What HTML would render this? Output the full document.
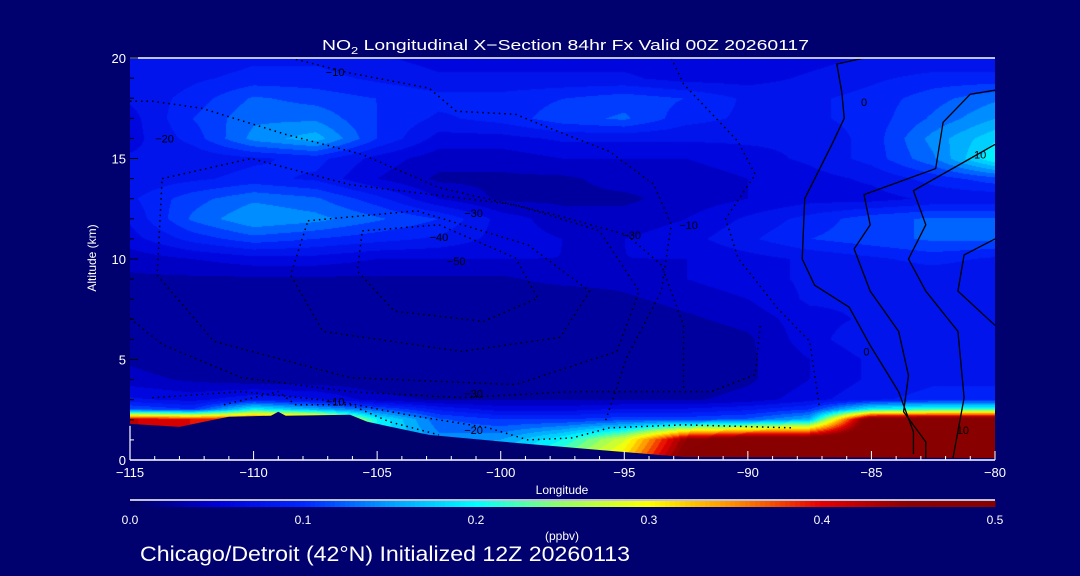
<!DOCTYPE html>
<html><head><meta charset="utf-8"><style>
body{margin:0;background:#00006e;width:1080px;height:576px;overflow:hidden;position:relative}
canvas{position:absolute;left:130px;top:58px}
svg{position:absolute;left:0;top:0;display:block;font-family:"Liberation Sans",sans-serif}
</style></head><body>
<canvas id="cv" width="865" height="402"></canvas>
<svg id="c" width="1080" height="576">
<defs><clipPath id="pc"><rect x="130" y="58" width="865" height="402"/></clipPath></defs>
<g id="plot" clip-path="url(#pc)"><g id="terrain"></g><g id="contours"></g></g>
<g id="axes"></g>
<text x="322" y="50" fill="#fff" font-size="15" textLength="487" lengthAdjust="spacingAndGlyphs">NO<tspan font-size="10" dy="4">2</tspan><tspan dy="-4"> Longitudinal X−Section 84hr  Fx Valid 00Z 20260117</tspan></text>
<text transform="translate(96,258) rotate(-90)" fill="#fff" font-size="12" text-anchor="middle">Altitude (km)</text>
<text x="562" y="494" fill="#fff" font-size="12" text-anchor="middle">Longitude</text>
<line x1="130" y1="500" x2="995" y2="500" stroke="#fff" stroke-width="1.5"/>
<g id="cbar"></g>
<g id="cbl"></g>
<text x="562" y="540" fill="#fff" font-size="12" text-anchor="middle">(ppbv)</text>
<text x="140" y="561" fill="#fff" font-size="21" textLength="490" lengthAdjust="spacingAndGlyphs">Chicago/Detroit (42°N) Initialized 12Z 20260113</text>
</svg>
<script>
const lons=[-115,-112.5,-110,-107.5,-105,-102.5,-100,-97.5,-95,-92.5,-90,-87.5,-85,-82.5,-80];
const alts=[20,19,18,17,16,15,14,13,12,11,10,9,8,7,6,5,4,3,2.5,2,1,0];
const no2=[
[.07,.07,.08,.08,.07,.06,.06,.06,.06,.06,.05,.06,.07,.07,.07],
[.07,.08,.09,.09,.08,.07,.07,.07,.07,.06,.06,.07,.08,.09,.09],
[.07,.09,.12,.11,.10,.09,.09,.10,.11,.10,.08,.08,.09,.11,.13],
[.06,.10,.13,.13,.10,.08,.09,.11,.12,.09,.08,.08,.09,.12,.15],
[.06,.09,.14,.16,.10,.06,.06,.07,.07,.07,.07,.07,.09,.14,.18],
[.07,.07,.08,.09,.06,.04,.04,.05,.05,.05,.06,.07,.09,.13,.20],
[.07,.08,.09,.08,.05,.03,.03,.03,.04,.04,.05,.06,.07,.09,.11],
[.08,.11,.13,.12,.09,.05,.03,.03,.03,.04,.05,.06,.06,.07,.07],
[.07,.12,.15,.14,.12,.10,.06,.04,.04,.05,.07,.09,.11,.12,.12],
[.06,.09,.11,.10,.09,.08,.06,.05,.05,.06,.08,.10,.11,.12,.12],
[.04,.05,.06,.06,.05,.05,.05,.05,.05,.05,.06,.07,.08,.09,.08],
[.03,.03,.03,.03,.03,.03,.03,.04,.04,.05,.06,.07,.07,.07,.07],
[.02,.02,.02,.02,.02,.02,.02,.02,.03,.04,.05,.07,.07,.07,.07],
[.02,.02,.02,.02,.02,.02,.02,.02,.02,.03,.04,.06,.07,.08,.08],
[.02,.02,.02,.02,.02,.02,.02,.02,.02,.02,.03,.06,.08,.08,.08],
[.03,.02,.02,.02,.02,.02,.02,.02,.02,.02,.03,.05,.07,.08,.08],
[.04,.03,.02,.02,.02,.02,.02,.02,.02,.02,.03,.05,.07,.08,.08],
[.07,.06,.08,.07,.04,.03,.03,.03,.03,.03,.04,.06,.08,.09,.09],
[.12,.10,.20,.16,.12,.08,.06,.06,.07,.07,.08,.10,.20,.22,.22],
[.42,.40,.40,.38,.20,.12,.10,.10,.11,.11,.12,.16,.50,.50,.50],
[.42,.40,.40,.40,.20,.14,.15,.20,.28,.45,.50,.50,.50,.50,.50],
[.42,.40,.40,.40,.20,.15,.18,.24,.32,.48,.50,.50,.50,.50,.50]];
const terrLon=[-115,-113,-112,-111,-109.3,-109,-108.7,-106.1,-105.4,-102.9,-99.4,-96,-92.6,-80];
const terrAlt=[1.8,1.65,1.9,2.15,2.2,2.4,2.2,2.25,1.9,1.25,0.85,0.5,0.15,0.1];
const xTicks=[-115,-110,-105,-100,-95,-90,-85,-80];
const yTicks=[0,5,10,15,20];
const cbTicks=[0,0.1,0.2,0.3,0.4,0.5];
const solidA=[[-85.3,20],[-86.4,19.7],[-86.2,18.3],[-86.1,17],[-86.6,15.7],[-87.7,13],[-87.8,10],[-87.3,8.7],[-85.9,7.6],[-85.05,5.7],[-83.9,3.4],[-83.3,1.4],[-83.3,0.3]];
const solidB=[[-80,18.4],[-81,18.2],[-82.1,16.8],[-82.4,14.5],[-85.3,13.2],[-85.05,11.7],[-85.7,10.5],[-85.05,8.4],[-83.9,6.4],[-83.5,4.2],[-83.7,2.4],[-82.8,0.9],[-82.8,0.1]];
const solidC=[[-80,15.7],[-81,15],[-83.3,13.4],[-82.8,11.7],[-83.5,10],[-82.8,8.4],[-81.5,6.4],[-81.25,3.1],[-81.7,0.1]];
const solidD=[[-80,11],[-81.25,10.2],[-81.5,8.4],[-80,6.7]];
const dotted=[
[[-108.5,20],[-106.1,19.25],[-102.9,18.5],[-101.8,17.35],[-99.4,17.2],[-98,16.5],[-95.6,15.35],[-93.8,13.7],[-93.1,11.7],[-93.5,8.4],[-94.9,5.1],[-95.8,1.8]],
[[-93.1,20],[-92.6,18.7],[-90.4,15.85],[-89.7,14.2],[-90.9,12],[-90.4,10.05],[-88.8,7.55],[-87.5,5.9],[-87.1,2.6]],
[[-115,17.85],[-114.1,17.85],[-112.1,17.5],[-108.7,16.2],[-105.6,15.2],[-102.5,13.55],[-97.8,12.2],[-94.9,11.2],[-93.5,9.7],[-92.6,6.7],[-92.6,3.4]],
[[-113.7,14],[-110.1,15],[-106.1,13.7],[-99.4,12.7],[-96,11.4],[-94.4,8.4],[-95.3,5.4],[-99.4,3.75],[-106.1,4.1],[-111.6,5.9],[-113.9,9.2],[-113.7,14]],
[[-107.8,11.9],[-103.4,12.4],[-98.9,10.7],[-96.4,8.4],[-97.6,6.1],[-101.6,5.4],[-107.2,6.4],[-108.5,9.2],[-107.8,11.9]],
[[-105.6,11.4],[-102.5,11.7],[-99.4,10.05],[-98.5,8.05],[-100.7,6.9],[-104.3,7.4],[-105.8,9.4],[-105.6,11.4]],
[[-115,7.05],[-113.7,5.75],[-110.5,4.1],[-106.1,3.4],[-101.6,3.1],[-97.1,3.4],[-91.5,3.4],[-89.7,4.25],[-89.5,6.7]],
[[-114.1,3.1],[-110.5,3.4],[-106.5,2.9],[-103.8,2.25],[-100.5,1.6],[-98.9,1.0],[-97.1,1.1],[-95.6,1.6],[-92.6,1.75],[-88.2,1.6]],
[[-111.2,2.75],[-109,3.4],[-108.3,2.75],[-106.1,2.75],[-104.5,1.9],[-102.5,1.25]]];
const labLon=[-106.7,-113.6,-101.1,-102.5,-101.8,-92.4,-94.7,-101.1,-101.1,-106.7,-85.3,-85.2,-80.6,-81.3];
const labAlt=[19.1,15.8,12.1,10.9,9.7,11.5,11,3.1,1.3,2.7,17.6,5.2,15,1.3];
const labTxt=['−10','−20','−30','−40','−50','−10','−30','−30','−20','−10','0','0','10','10'];
const X0=130,X1=995,Y0=460,Y1=58;
const xs=l=>X0+(l+115)/35*(X1-X0), ys=a=>Y0-a/20*(Y0-Y1);
const cs=[[0,[0,0,100]],[0.05,[0,0,215]],[0.1,[0,40,255]],[0.15,[0,160,255]],[0.2,[0,255,255]],[0.25,[150,255,100]],[0.3,[255,255,0]],[0.35,[255,140,0]],[0.4,[230,0,0]],[0.45,[140,0,0]],[0.5,[135,0,0]]];
function rgb(v){v=Math.max(0,Math.min(.5,v));for(let i=1;i<cs.length;i++){if(v<=cs[i][0]){const a=cs[i-1],b=cs[i],t=(v-a[0])/(b[0]-a[0]);return a[1].map((c,k)=>Math.round(c+(b[1][k]-c)*t));}}return [135,0,0];}
const cv=document.getElementById('cv'),ctx=cv.getContext('2d'),W=865,H=402,img=ctx.createImageData(W,H);
const nc=lons.length-1,q=0.0167;
for(let py=0;py<H;py++){const alt=20-py/(H-1)*20;let r0=0;while(r0<alts.length-2&&alts[r0+1]>alt)r0++;
 const tr=(alts[r0]-alt)/(alts[r0]-alts[r0+1]);
 for(let px=0;px<W;px++){const fc=px/(W-1)*nc,c0=Math.min(nc-1,Math.floor(fc)),tc=fc-c0;
  const v=(no2[r0][c0]*(1-tc)+no2[r0][c0+1]*tc)*(1-tr)+(no2[r0+1][c0]*(1-tc)+no2[r0+1][c0+1]*tc)*tr;
  const c=rgb(Math.floor(v/q)*q+q/2),i=(py*W+px)*4;img.data[i]=c[0];img.data[i+1]=c[1];img.data[i+2]=c[2];img.data[i+3]=255;}}
ctx.putImageData(img,0,0);
const NS='http://www.w3.org/2000/svg';
function mk(t,at,p){const e=document.createElementNS(NS,t);for(const k in at)e.setAttribute(k,at[k]);p.appendChild(e);return e;}
let tp='M'+X0+','+(Y0+5)+' '+terrLon.map((l,i)=>xs(l)+','+ys(terrAlt[i])).join(' ')+' L'+X1+','+(Y0+5)+'Z';
const ter=mk('path',{d:tp,fill:'#00006e'},document.getElementById('terrain'));


const cg=document.getElementById('contours');
const pl=pts=>pts.map(p=>xs(p[0])+','+ys(p[1])).join(' ');
[solidA,solidB,solidC,solidD].forEach(s=>{const e=mk('polyline',{points:pl(s),fill:'none',stroke:'#000','stroke-width':1.3},cg);
 
 });
dotted.forEach(s=>{const e=mk('polyline',{points:pl(s),fill:'none',stroke:'#000','stroke-width':1.5,'stroke-dasharray':'1.5 4'},cg);
 
 });
labTxt.forEach((t,i)=>{const e=mk('text',{x:xs(labLon[i]),y:ys(labAlt[i]),fill:'#000','font-size':11,'text-anchor':'middle'},cg);e.textContent=t;
 
 });
const ax=document.getElementById('axes');
mk('line',{x1:X0,y1:Y1,x2:X1,y2:Y1,stroke:'#fff','stroke-width':1.5},ax);
mk('line',{x1:X0,y1:Y0,x2:X1,y2:Y0,stroke:'#fff','stroke-width':1.5},ax);
mk('line',{x1:X0,y1:Y0,x2:X0,y2:ys(1.7),stroke:'#fff','stroke-width':1.2},ax);
for(let l=-115;l<=-80;l++){mk('line',{x1:xs(l),y1:Y0,x2:xs(l),y2:Y0-(l%5==0?9:4),stroke:'#fff'},ax);}
for(let a=0;a<=20;a++){mk('line',{x1:X0,y1:ys(a),x2:X0+(a%5==0?8:4),y2:ys(a),stroke:a<2?'#fff':'#000'},ax);}
xTicks.forEach(l=>{const t=mk('text',{x:xs(l),y:Y0+17,fill:'#fff','font-size':13,'text-anchor':'middle'},ax);t.textContent=l<0?'−'+(-l):l;
 
 });
yTicks.forEach(a=>{const t=mk('text',{x:X0-4,y:ys(a)+5,fill:'#fff','font-size':13,'text-anchor':'end'},ax);t.textContent=a;
 
 });
const cb=document.getElementById('cbar');
for(let i=0;i<173;i++){const c=rgb(i/172*0.5);const e=mk('rect',{x:X0+i*5,y:501,width:5.5,height:6,fill:'rgb('+c.join(',')+')'},cb);
 
 }
const cbl=document.getElementById('cbl');
cbTicks.forEach(v=>{const t=mk('text',{x:X0+v/0.5*(X1-X0),y:524,fill:'#fff','font-size':12,'text-anchor':'middle'},cbl);t.textContent=v.toFixed(1);
 
 });
</script>
</body></html>
